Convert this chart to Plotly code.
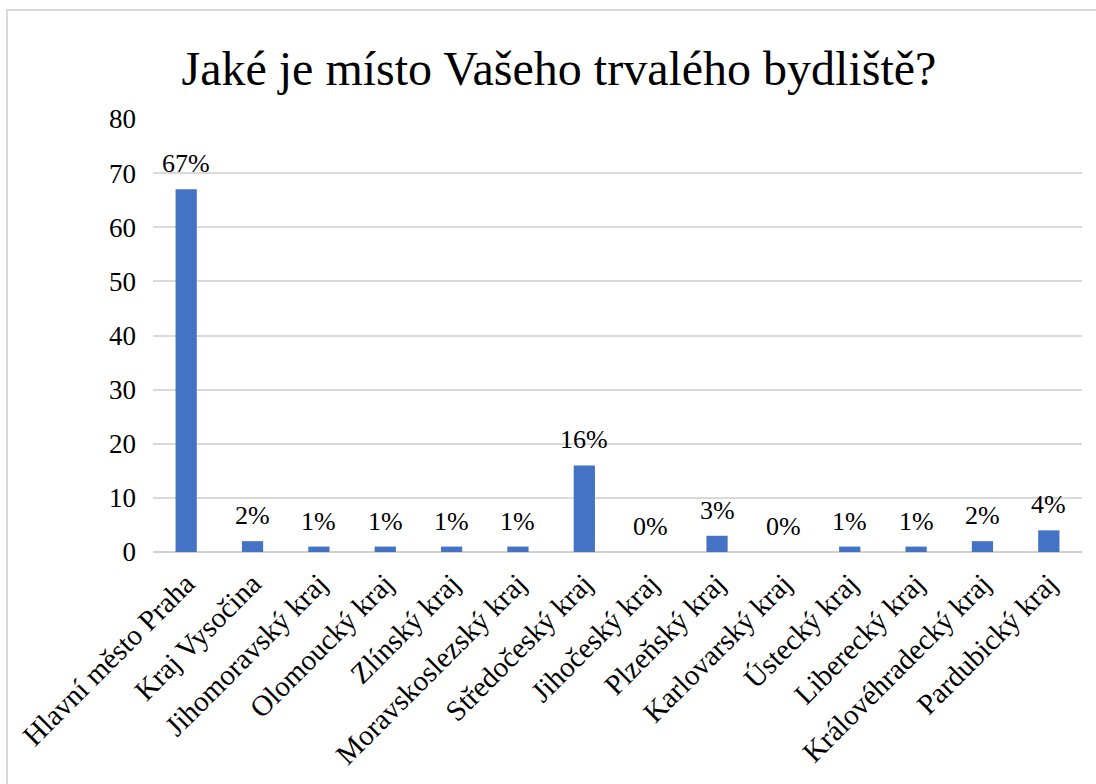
import plotly.graph_objects as go

# survey answers, share of respondents (%)
regions = [
    "Hlavní město Praha", "Kraj Vysočina", "Jihomoravský kraj", "Olomoucký kraj",
    "Zlínský kraj", "Moravskoslezský kraj", "Středočeský kraj", "Jihočeský kraj",
    "Plzeňský kraj", "Karlovarský kraj", "Ústecký kraj", "Liberecký kraj",
    "Královéhradecký kraj", "Pardubický kraj",
]
shares = [67, 2, 1, 1, 1, 1, 16, 0, 3, 0, 1, 1, 2, 4]
y_ticks = [0, 10, 20, 30, 40, 50, 60, 70, 80]

FONT = "Liberation Serif, Times New Roman, serif"
W, H = 1096, 784
L, R, T, B = 153, 14, 119, 232

fig = go.Figure(
    go.Bar(
        x=regions,
        y=shares,
        marker=dict(color="#4472C4", line=dict(width=0)),
        hovertemplate="%{x}: %{y}%<extra></extra>",
    )
)

# value labels a bit above each bar
for region, share in zip(regions, shares):
    fig.add_annotation(
        x=region, y=share, text=f"{share}%",
        showarrow=False, yanchor="bottom", yshift=9,
        font=dict(family=FONT, size=26, color="#000000"),
    )

# light frame around the whole chart (runs off the picture on right/bottom)
pw, ph = W - L - R, H - T - B
fig.add_shape(
    type="rect", xref="paper", yref="paper",
    x0=(7 - L) / pw, x1=(W + 10 - L) / pw,
    y0=(H - B - (H + 10)) / ph, y1=(H - B - 10) / ph,
    line=dict(color="#d9d9d9", width=2),
    fillcolor="rgba(0,0,0,0)",
    layer="below",
)

fig.update_layout(
    template="none",
    width=W,
    height=H,
    margin=dict(l=L, r=R, t=T, b=B),
    paper_bgcolor="white",
    plot_bgcolor="white",
    showlegend=False,
    bargap=0.68,
    title=dict(
        text="Jaké je místo Vašeho trvalého bydliště?",
        x=0.51, xanchor="center",
        y=1 - 68 / H, yanchor="middle",
        font=dict(family=FONT, size=48, color="#000000"),
    ),
    font=dict(family=FONT, color="#000000"),
)
fig.update_xaxes(
    tickangle=-45,
    tickfont=dict(family=FONT, size=29, color="#000000"),
    showgrid=False,
    showline=False,
    ticks="",
    ticklabelstandoff=8,
    automargin=False,
)
fig.update_yaxes(
    range=[0, 80],
    tickvals=y_ticks,
    tickfont=dict(family=FONT, size=27, color="#000000"),
    showgrid=True,
    gridcolor="#d9d9d9",
    gridwidth=1.5,
    zeroline=True,
    zerolinecolor="#d0d0d0",
    zerolinewidth=2,
    showline=False,
    ticks="",
    ticklabelstandoff=16,
    automargin=False,
)

# drop the default body margin so the figure sits at the page corner
fig.write_html(
    "out.html",
    config={"displayModeBar": False},
    post_script="document.body.style.margin='0';",
)
